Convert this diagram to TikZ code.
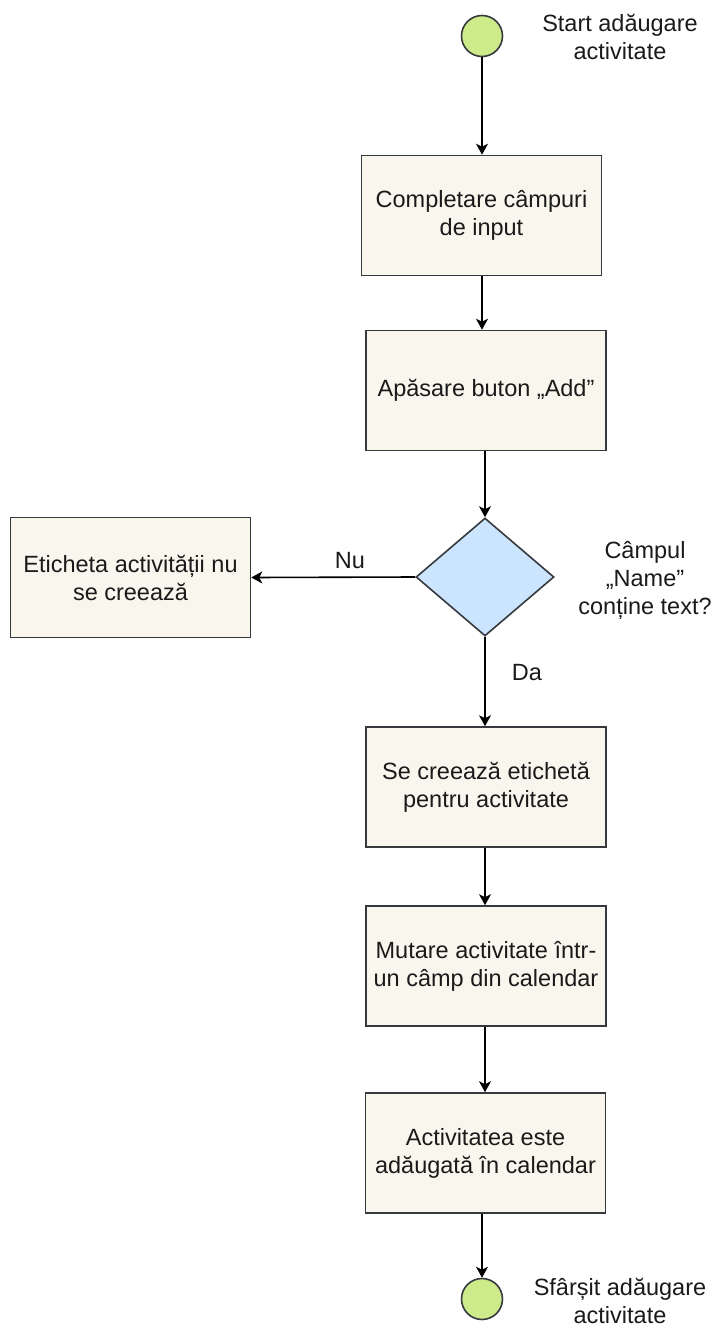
\documentclass[tikz,border=0pt]{standalone}
\usepackage{fontspec}
\setmainfont{Liberation Sans}
\usetikzlibrary{shapes.geometric,arrows.meta}
\definecolor{boxfill}{HTML}{F9F7ED}
\definecolor{boxline}{HTML}{36393D}
\definecolor{decfill}{HTML}{CCE5FF}
\definecolor{termfill}{HTML}{CDEB8B}
\definecolor{ink}{HTML}{1A1A1A}
\begin{document}
\begin{tikzpicture}[x=1pt,y=-1pt,
  every node/.style={font=\fontsize{23.5}{28}\selectfont, align=center, text=ink},
  stepbox/.style={draw=boxline, line width=1.6pt, fill=boxfill,
    minimum width=240pt, minimum height=120pt, inner sep=0pt},
  decision/.style={diamond, draw=boxline, line width=1.6pt, fill=decfill,
    minimum width=138pt, minimum height=118pt, inner sep=0pt},
  terminal/.style={circle, draw=boxline, line width=1.6pt, fill=termfill,
    minimum size=41pt, inner sep=0pt},
  flow/.style={draw=black, line width=1.6pt,
    -{Stealth[length=11pt,width=12pt,inset=3pt]}},
  note/.style={inner sep=0pt}
]
\useasboundingbox (0,0) rectangle (717,1327);

% start and end markers
\node[terminal] (start) at (482,36) {};
\node[note] (startlbl) at (620,37) {Start adăugare\\activitate};
\node[terminal] (stop) at (482,1299) {};
\node[note] (stoplbl) at (620,1301) {Sfârșit adăugare\\activitate};

% process steps
\node[stepbox] (fill)   at (481.5,215.5) {Completare câmpuri\\de input};
\node[stepbox] (press)  at (486,390.5)   {Apăsare buton „Add"};
\node[decision] (check) at (485,577)     {};
\node[note] (checklbl)  at (645,580)     {Câmpul\\„Name"\\conține text?};
\node[stepbox] (nolabel) at (130.5,577.5) {Eticheta activității nu\\se creează};
\node[stepbox] (mklabel) at (486,787)    {Se creează etichetă\\pentru activitate};
\node[stepbox] (move)    at (486,966)    {Mutare activitate într-\\un câmp din calendar};
\node[stepbox] (added)   at (485.5,1153) {Activitatea este\\adăugată în calendar};

% connectors
\draw[flow] (start) -- (start |- fill.north);
\draw[flow] (start |- fill.south) -- (start |- press.north);
\draw[flow] (check.north |- press.south) -- (check.north);
\draw[flow] (check.west) -- (nolabel.east);
\node[note] (nu) at (350,561) {Nu};
\draw[flow] (check.south) -- (check.south |- mklabel.north);
\node[note] (da) at (527,673) {Da};
\draw[flow] (check.south |- mklabel.south) -- (check.south |- move.north);
\draw[flow] (check.south |- move.south) -- (check.south |- added.north);
\draw[flow] (stop |- added.south) -- (stop.north);
\end{tikzpicture}
\end{document}
